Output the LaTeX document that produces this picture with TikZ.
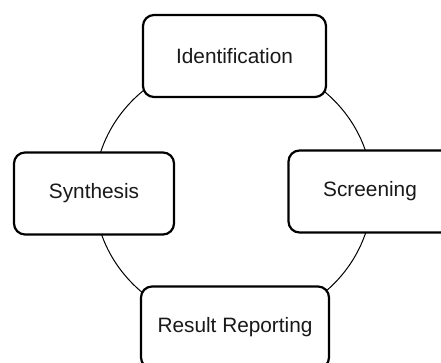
\documentclass[tikz,border=0pt]{standalone}
\usepackage{fontspec}
\setmainfont{Liberation Sans}
\begin{document}
\begin{tikzpicture}[x=1pt,y=-1pt,
  stagebox/.style={draw=black, fill=white, line width=2.2pt, rounded corners=11pt,
    minimum width=#1, minimum height=82pt, inner sep=0pt,
    font=\fontsize{20.8}{25}\selectfont, text=black!90},
  ring/.style={draw=black, line width=1pt}]
\useasboundingbox (0,0) rectangle (441,363);
\coordinate (ctr) at (233.3,192);
\draw[ring] (ctr) ellipse [x radius=139, y radius=133];
\node[stagebox=183pt] (ident) at (234.5,56) {Identification};
\node[stagebox=160pt] (synth) at (94,193.5) {Synthesis};
\node[stagebox=163pt] (screen) at (370,191.5) {Screening};
\node[stagebox=188pt] (report) at (235,327.5) {Result Reporting};
\end{tikzpicture}
\end{document}
